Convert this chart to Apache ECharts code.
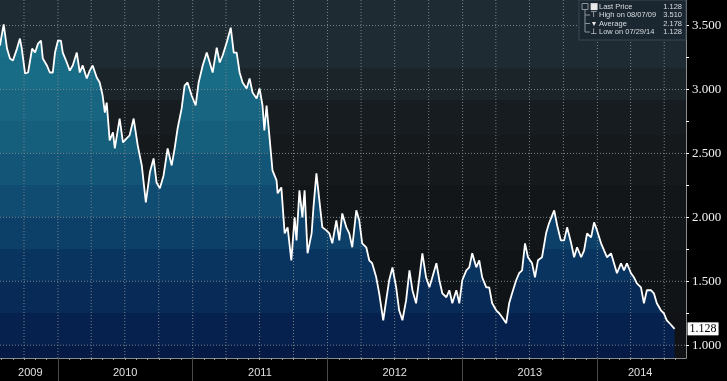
<!DOCTYPE html>
<html>
<head>
<meta charset="utf-8">
<script src="https://cdn.jsdelivr.net/npm/echarts@6/dist/echarts.min.js"></script>
<style>
  html, body { margin: 0; background: #000; }
  #chart { width: 727px; height: 381px; }
</style>
</head>
<body>
<div id="chart"></div>
<script>
// price history
const dates = [
  '2009-07-28','2009-07-31','2009-08-07','2009-08-16','2009-08-24','2009-09-01','2009-09-12','2009-09-20','2009-09-25','2009-10-04',
  '2009-10-12','2009-10-23','2009-10-31','2009-11-08','2009-11-16','2009-11-21','2009-12-02','2009-12-10','2009-12-18','2009-12-24',
  '2010-01-01','2010-01-09','2010-01-14','2010-01-25','2010-02-02','2010-02-10','2010-02-21','2010-03-01','2010-03-09','2010-03-20',
  '2010-03-28','2010-04-05','2010-04-16','2010-04-24','2010-05-02','2010-05-08','2010-05-13','2010-05-21','2010-05-30','2010-06-04',
  '2010-06-17','2010-06-26','2010-07-06','2010-07-14','2010-07-25','2010-08-05','2010-08-16','2010-08-27','2010-09-07','2010-09-17',
  '2010-09-25','2010-10-04','2010-10-14','2010-10-25','2010-11-05','2010-11-13','2010-11-21','2010-12-02','2010-12-10','2010-12-18',
  '2010-12-29','2011-01-09','2011-01-17','2011-01-28','2011-02-08','2011-02-16','2011-02-24','2011-03-07','2011-03-15','2011-03-23',
  '2011-04-03','2011-04-14','2011-04-22','2011-04-30','2011-05-08','2011-05-16','2011-05-27','2011-06-04','2011-06-12','2011-06-23',
  '2011-07-01','2011-07-09','2011-07-14','2011-07-20','2011-07-28','2011-08-05','2011-08-16','2011-08-19','2011-08-29','2011-09-07',
  '2011-09-15','2011-09-25','2011-10-04','2011-10-09','2011-10-17','2011-10-25','2011-10-31','2011-11-08','2011-11-19','2011-11-24',
  '2011-12-02','2011-12-10','2011-12-18','2011-12-29','2012-01-06','2012-01-14','2012-01-25','2012-02-02','2012-02-10','2012-02-21',
  '2012-02-29','2012-03-08','2012-03-19','2012-03-27','2012-04-04','2012-04-15','2012-04-23','2012-05-01','2012-05-12','2012-05-20',
  '2012-05-31','2012-06-08','2012-06-16','2012-06-25','2012-07-05','2012-07-13','2012-07-22','2012-08-01','2012-08-10','2012-08-18',
  '2012-08-28','2012-09-06','2012-09-14','2012-09-24','2012-10-03','2012-10-11','2012-10-22','2012-10-30','2012-11-07','2012-11-18',
  '2012-11-26','2012-12-04','2012-12-15','2012-12-23','2012-12-31','2013-01-11','2013-01-19','2013-01-27','2013-02-07','2013-02-15',
  '2013-02-23','2013-03-06','2013-03-14','2013-03-22','2013-04-02','2013-04-10','2013-04-18','2013-04-29','2013-05-07','2013-05-15',
  '2013-05-26','2013-06-03','2013-06-11','2013-06-19','2013-06-27','2013-07-08','2013-07-16','2013-07-24','2013-08-04','2013-08-15',
  '2013-08-23','2013-09-06','2013-09-14','2013-09-24','2013-10-03','2013-10-11','2013-10-22','2013-10-30','2013-11-07','2013-11-18',
  '2013-11-26','2013-12-04','2013-12-15','2013-12-23','2013-12-31','2014-01-11','2014-01-19','2014-01-27','2014-02-07','2014-02-15',
  '2014-02-23','2014-03-06','2014-03-14','2014-03-22','2014-04-02','2014-04-10','2014-04-18','2014-04-29','2014-05-07','2014-05-15',
  '2014-05-26','2014-06-03','2014-06-11','2014-06-22','2014-06-30','2014-07-08','2014-07-18','2014-07-29'
];
const prices = [
  3.344, 3.398, 3.510, 3.320, 3.242, 3.227, 3.320, 3.398, 3.320, 3.125,
  3.133, 3.320, 3.289, 3.359, 3.383, 3.242, 3.188, 3.133, 3.133, 3.289,
  3.383, 3.383, 3.289, 3.211, 3.148, 3.188, 3.289, 3.133, 3.188, 3.086,
  3.148, 3.188, 3.094, 3.055, 2.953, 2.820, 2.898, 2.602, 2.664, 2.539,
  2.773, 2.586, 2.617, 2.641, 2.773, 2.563, 2.406, 2.117, 2.352, 2.461,
  2.273, 2.227, 2.328, 2.539, 2.406, 2.539, 2.695, 2.852, 3.031, 3.055,
  2.953, 2.875, 3.055, 3.188, 3.289, 3.211, 3.133, 3.328, 3.211, 3.266,
  3.367, 3.484, 3.289, 3.289, 3.133, 3.055, 3.008, 3.086, 2.977, 2.930,
  3.008, 2.875, 2.680, 2.875, 2.625, 2.367, 2.289, 2.188, 2.234, 1.875,
  1.922, 1.664, 2.000, 1.820, 2.211, 2.000, 2.211, 1.719, 1.875, 2.078,
  2.344, 2.133, 1.922, 1.898, 1.875, 1.797, 1.977, 1.820, 2.031, 1.922,
  1.875, 1.766, 2.055, 1.977, 1.797, 1.766, 1.664, 1.641, 1.531, 1.406,
  1.195, 1.352, 1.508, 1.609, 1.453, 1.273, 1.195, 1.352, 1.586, 1.430,
  1.328, 1.531, 1.719, 1.531, 1.453, 1.531, 1.641, 1.508, 1.406, 1.375,
  1.430, 1.328, 1.430, 1.328, 1.508, 1.586, 1.609, 1.719, 1.609, 1.664,
  1.531, 1.453, 1.453, 1.328, 1.273, 1.250, 1.219, 1.172, 1.328, 1.406,
  1.508, 1.563, 1.586, 1.797, 1.688, 1.641, 1.531, 1.664, 1.688, 1.875,
  1.953, 2.055, 1.938, 1.820, 1.820, 1.922, 1.797, 1.688, 1.766, 1.688,
  1.742, 1.875, 1.844, 1.961, 1.898, 1.797, 1.742, 1.688, 1.719, 1.641,
  1.563, 1.641, 1.586, 1.641, 1.563, 1.531, 1.484, 1.453, 1.328, 1.430,
  1.430, 1.406, 1.328, 1.273, 1.250, 1.195, 1.164, 1.128
];

// axis text
const yearLabelDates = ['2009-10-18', '2010-07-02', '2011-07-02', '2012-07-01', '2013-07-02', '2014-04-27'];
const yTickLabels = [1.0, 1.5, 2.0, 2.5, 3.0, 3.5];
const yMinorTicks = [1.0, 1.25, 1.5, 1.75, 2.0, 2.25, 2.5, 2.75, 3.0, 3.25, 3.5];

// legend box
const legendIcons = ['\u25A0', '\u22A4', '\u25BE', '\u22A5'];
const legendNames = ['Last Price', 'High on 08/07/09', 'Average', 'Low on 07/29/14'];
const legendValues = ['1.128', '3.510', '2.178', '1.128'];

function ts(s) {
  const p = s.split('-');
  return new Date(+p[0], +p[1] - 1, +p[2]).getTime();
}

const xMin = ts('2009-07-28');
const xMax = ts('2014-08-29');
const yMin = 0.9;
const yMax = 3.7;
const seriesData = dates.map((d, i) => [ts(d), prices[i]]);

const monthTicks = [];
const quarterLines = [];
const yearStarts = [];
for (let y = 2009; y <= 2014; y++) {
  for (let m = 0; m < 12; m++) {
    const t = new Date(y, m, 1).getTime();
    if (t <= xMin || t >= xMax) continue;
    monthTicks.push(t);
    if (m % 3 === 0) quarterLines.push(t);
    if (m === 0) yearStarts.push(t);
  }
}

// stepped bands like the terminal chart
function bands(list, h) {
  const stops = [];
  list.forEach((b, i) => {
    const from = b[0] / h;
    const to = i < list.length - 1 ? list[i + 1][0] / h : 1;
    stops.push({ offset: from, color: b[1] });
    stops.push({ offset: to, color: b[1] });
  });
  return stops;
}

const plotH = 358;
const fillBands = [
  [0, '#1a7088'], [57, '#196c85'], [89, '#176580'], [121, '#155e7c'], [153, '#135577'],
  [185, '#104b71'], [217, '#0d4069'], [249, '#0a3460'], [281, '#082a57'], [313, '#06214d'], [345, '#051a45']
];
const bgBands = [
  [0, '#1f2b33'], [68, '#1b2429'], [100, '#171c20'], [135, '#15191c'], [185, '#131618'], [250, '#111416'], [313, '#101215']
];

// dotted grid, one short line series per grid line
const gridSeries = quarterLines.map(t => [[t, yMin], [t, yMax]])
  .concat(yTickLabels.map(v => [[xMin, v], [xMax, v]]))
  .map(pts => ({
    type: 'line', data: pts, z: 2, silent: true, showSymbol: false, clip: false,
    lineStyle: { color: '#77838a', width: 1, type: [1, 2], opacity: 1 }
  }));

const chart = echarts.init(document.getElementById('chart'));

const legendGraphics = [
  {
    type: 'rect', shape: { x: 579, y: 0, width: 107, height: 40 },
    style: { fill: 'rgba(26,38,48,0.95)', stroke: '#3b4852', lineWidth: 1 }, z: 100
  },
  {
    type: 'polyline', shape: { points: [[585, 9], [585, 32], [590, 32]] },
    style: { stroke: '#8a949c', lineWidth: 1, fill: null }, z: 101
  },
  {
    type: 'rect', shape: { x: 582, y: 3.5, width: 6, height: 6 },
    style: { fill: 'none', stroke: '#8a949c', lineWidth: 1 }, z: 101
  }
];
const rowY = [6.5, 15, 23.5, 32];
legendNames.forEach((name, i) => {
  if (i > 0 && i < 3) {
    legendGraphics.push({
      type: 'line', shape: { x1: 585, y1: rowY[i], x2: 590, y2: rowY[i] },
      style: { stroke: '#8a949c', lineWidth: 1 }, z: 101
    });
  }
  legendGraphics.push({
    type: 'text', x: 594, y: rowY[i], z: 102,
    style: { text: legendIcons[i], fill: '#e8e8e8', font: (i === 0 ? '9px' : '8px') + ' "DejaVu Sans"', align: 'center', verticalAlign: 'middle' }
  });
  legendGraphics.push({
    type: 'text', x: 599, y: rowY[i], z: 102,
    style: { text: name, fill: '#d8dde0', font: '7.5px "Liberation Sans"', align: 'left', verticalAlign: 'middle' }
  });
  legendGraphics.push({
    type: 'text', x: 682, y: rowY[i], z: 102,
    style: { text: legendValues[i], fill: '#d8dde0', font: '7.5px "Liberation Sans"', align: 'right', verticalAlign: 'middle' }
  });
});

chart.setOption({
  animation: false,
  backgroundColor: '#000',
  grid: {
    left: 0, right: 41, top: 0, bottom: 23,
    outerBoundsMode: 'none',
    show: true, borderWidth: 0,
    backgroundColor: new echarts.graphic.LinearGradient(0, 0, 0, 1, bands(bgBands, plotH))
  },
  xAxis: [
    {
      type: 'value', min: xMin, max: xMax, scale: true,
      axisLine: { show: true, lineStyle: { color: '#8a8a8a', width: 1 } },
      axisTick: { show: true, customValues: monthTicks, length: 2, lineStyle: { color: '#9a9a9a' } },
      axisLabel: {
        customValues: yearLabelDates.map(ts),
        formatter: v => String(new Date(v).getFullYear()),
        color: '#e0e0e0', fontFamily: 'Liberation Sans', fontSize: 11, margin: 9
      },
      splitLine: { show: false }
    },
    {
      // year separators under the axis
      type: 'value', min: xMin, max: xMax, scale: true, position: 'bottom',
      axisLine: { show: false },
      axisTick: { show: true, customValues: yearStarts, length: 23, lineStyle: { color: '#4a4a4a' } },
      axisLabel: { show: false },
      splitLine: { show: false }
    }
  ],
  yAxis: {
    type: 'value', position: 'right', min: yMin, max: yMax,
    axisLine: { show: true, lineStyle: { color: '#8a8a8a', width: 1 } },
    axisTick: { show: true, customValues: yMinorTicks, length: 3, lineStyle: { color: '#ffffff' } },
    axisLabel: {
      customValues: yTickLabels,
      formatter: v => v.toFixed(3),
      color: '#f2f2f2', fontFamily: 'Liberation Serif', fontSize: 13, margin: 6
    },
    splitLine: { show: false }
  },
  series: [
    {
      name: 'area', type: 'line', data: seriesData, z: 1, silent: true,
      showSymbol: false, lineStyle: { width: 0 },
      areaStyle: {
        origin: 'start', opacity: 1,
        color: new echarts.graphic.LinearGradient(0, 0, 0, plotH, bands(fillBands, plotH), true)
      }
    }
  ].concat(gridSeries, [
    {
      name: 'Last Price', type: 'line', data: seriesData, z: 3,
      showSymbol: false,
      lineStyle: { color: '#ffffff', width: 1.8 },
      endLabel: {
        show: true, distance: 13,
        formatter: p => p.value[1].toFixed(3),
        backgroundColor: '#ffffff', color: '#000000',
        padding: [1, 2, 0, 2],
        fontFamily: 'Liberation Serif', fontSize: 12
      }
    }
  ]),
  graphic: legendGraphics
});
</script>
</body>
</html>
